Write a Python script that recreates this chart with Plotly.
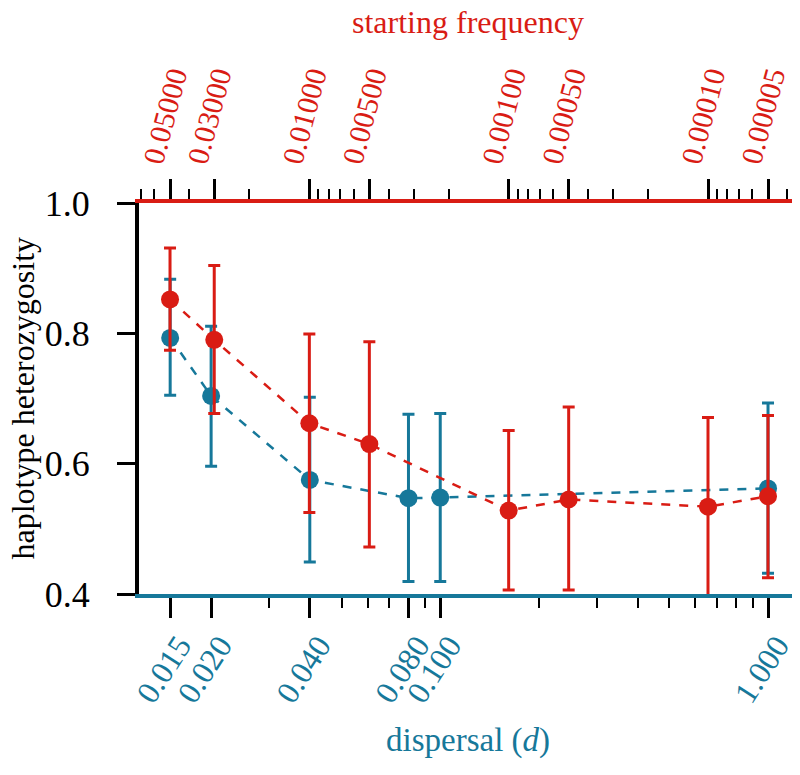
import plotly.graph_objects as go

RED = '#d91c14'
TEAL = '#16789a'
FONT = 'Liberation Serif'

# dispersal series (bottom axis)
disp_x = [0.015, 0.02, 0.04, 0.08, 0.1, 1.0]
disp_y = [0.793, 0.704, 0.575, 0.547, 0.548, 0.562]
disp_hi = [0.883, 0.811, 0.702, 0.676, 0.677, 0.693]
disp_lo = [0.705, 0.596, 0.449, 0.419, 0.419, 0.432]

# starting frequency series (top axis)
freq_x = [0.05, 0.03, 0.01, 0.005, 0.001, 0.0005, 0.0001, 0.00005]
freq_y = [0.852, 0.790, 0.662, 0.630, 0.528, 0.545, 0.534, 0.550]
freq_hi = [0.931, 0.904, 0.799, 0.787, 0.651, 0.687, 0.671, 0.674]
freq_lo = [0.774, 0.677, 0.525, 0.472, 0.406, 0.406, 0.390, 0.425]

disp_ticks = [0.015, 0.02, 0.04, 0.08, 0.1, 1.0]
disp_labels = ['0.015', '0.020', '0.040', '0.080', '0.100', '1.000']
freq_ticks = [0.05, 0.03, 0.01, 0.005, 0.001, 0.0005, 0.0001, 0.00005]
freq_labels = ['0.05000', '0.03000', '0.01000', '0.00500',
               '0.00100', '0.00050', '0.00010', '0.00005']

disp_minor = [m * 10 ** e for e in (-2, -1, 0) for m in range(1, 10)]
freq_minor = [m * 10 ** e for e in (-5, -4, -3, -2) for m in range(1, 10)]

fig = go.Figure()

fig.add_trace(go.Scatter(
    x=disp_x, y=disp_y, xaxis='x', yaxis='y',
    mode='lines+markers',
    line=dict(color=TEAL, width=2.5, dash='dash'),
    marker=dict(color=TEAL, size=18),
    error_y=dict(type='data', symmetric=False,
                 array=[h - v for h, v in zip(disp_hi, disp_y)],
                 arrayminus=[v - l for v, l in zip(disp_y, disp_lo)],
                 color=TEAL, thickness=3, width=6),
    showlegend=False,
))

fig.add_trace(go.Scatter(
    x=freq_x, y=freq_y, xaxis='x2', yaxis='y',
    mode='lines+markers',
    line=dict(color=RED, width=2.5, dash='dash'),
    marker=dict(color=RED, size=18),
    error_y=dict(type='data', symmetric=False,
                 array=[h - v for h, v in zip(freq_hi, freq_y)],
                 arrayminus=[v - l for v, l in zip(freq_y, freq_lo)],
                 color=RED, thickness=3, width=6),
    showlegend=False,
))

# the page body adds an 8px margin, so the figure is 8px smaller each way
W, H = 792, 767
ML, MR, MT, MB = 131, 3, 195, 181
PW, PH = W - ML - MR, H - MT - MB

# axis titles as annotations, so they sit where the reference has them
titles = [
    dict(text='starting frequency', x=0.5, y=1 + (MT - 14) / PH,
         font=dict(color=RED, size=32), textangle=0),
    dict(text='dispersal (<i>d</i>)', x=0.5, y=-(732 - (H - MB)) / PH,
         font=dict(color=TEAL, size=33), textangle=0),
    dict(text='haplotype heterozygosity', x=-(ML - 14) / PW, y=0.5,
         font=dict(color='black', size=32), textangle=-90),
]

fig.update_layout(
    width=W, height=H,
    margin=dict(l=ML, r=MR, t=MT, b=MB),
    paper_bgcolor='white', plot_bgcolor='white',
    font=dict(family=FONT, color='black', size=30),
    annotations=[dict(xref='paper', yref='paper', showarrow=False,
                      xanchor='center', yanchor='middle', **t) for t in titles],
    xaxis=dict(
        type='log', range=[-1.919, 0.0884], autorange=False, automargin=False,
        showgrid=False, zeroline=False,
        showline=True, linecolor=TEAL, linewidth=4,
        tickmode='array', tickvals=disp_ticks, ticktext=disp_labels,
        ticks='outside', ticklen=20, tickwidth=3, tickcolor='black',
        tickangle=-57, tickfont=dict(color=TEAL, size=32),
        ticklabelstandoff=-4, ticklabelshift=9,
        ticklabeloverflow='allow',
        minor=dict(tickmode='array', tickvals=disp_minor, ticks='outside',
                   ticklen=10, tickwidth=2, tickcolor='black'),
    ),
    xaxis2=dict(
        type='log', range=[-1.1454, -4.4465], autorange=False, automargin=False,
        overlaying='x', side='top', anchor='y',
        showgrid=False, zeroline=False,
        showline=True, linecolor=RED, linewidth=4,
        tickmode='array', tickvals=freq_ticks, ticktext=freq_labels,
        ticks='outside', ticklen=20, tickwidth=3, tickcolor='black',
        tickangle=-75, tickfont=dict(color=RED, size=30),
        ticklabelstandoff=-10, ticklabelshift=22,
        ticklabeloverflow='allow',
        minor=dict(tickmode='array', tickvals=freq_minor, ticks='outside',
                   ticklen=10, tickwidth=2, tickcolor='black'),
    ),
    yaxis=dict(
        range=[0.4, 1.0], autorange=False, automargin=False,
        showgrid=False, zeroline=False,
        showline=True, linecolor='black', linewidth=4, mirror=True,
        tickmode='array', tickvals=[0.4, 0.6, 0.8, 1.0], tickformat='.1f',
        ticks='outside', ticklen=18, tickwidth=3, tickcolor='black',
        tickfont=dict(size=36), ticklabelstandoff=20,
    ),
)

fig.write_html('out.html')
